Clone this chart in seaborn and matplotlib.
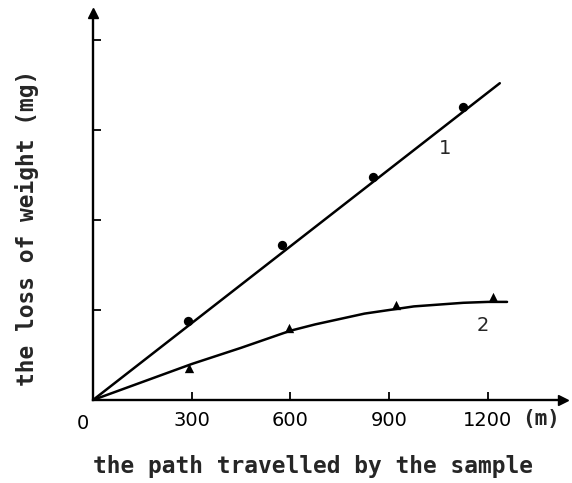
import matplotlib
matplotlib.use("Agg")
import matplotlib.pyplot as plt
import matplotlib.transforms as mtransforms
import seaborn as sns
import pandas as pd

# ---- data ----
# curve 1: measured points (filled circles) and straight fitted line
c1_x = [289, 574, 851, 1124]
c1_y = [0.88, 1.72, 2.48, 3.26]
c1_line_x = [0, 1236]
c1_line_y = [0.0, 3.52]

# curve 2: measured points (triangles) and smooth fitted curve
c2_x = [292, 596, 921, 1216]
c2_y = [0.36, 0.80, 1.06, 1.15]
c2_line_x = [0, 150, 300, 450, 600, 675, 750, 825, 900, 975, 1050, 1125, 1200, 1258]
c2_line_y = [0.0, 0.20, 0.40, 0.58, 0.77, 0.84, 0.90, 0.96, 1.00, 1.04, 1.06, 1.08, 1.09, 1.09]

x_ticks = [0, 300, 600, 900, 1200]
x_tick_labels = ["0", "300", "600", "900", "1200"]
y_ticks = [1, 2, 3, 4]

sns.set_style("ticks")
plt.rcParams["font.family"] = ["DejaVu Sans"]

fig = plt.figure(figsize=(5.72, 4.83), dpi=100)
ax = fig.add_axes([93 / 572, 83 / 483, 470 / 572, 387 / 483])

df1 = pd.DataFrame({"x": c1_line_x, "y": c1_line_y})
df2 = pd.DataFrame({"x": c2_line_x, "y": c2_line_y})
p1 = pd.DataFrame({"x": c1_x, "y": c1_y})
p2 = pd.DataFrame({"x": c2_x, "y": c2_y})

sns.lineplot(data=df1, x="x", y="y", ax=ax, color="black", linewidth=1.8, sort=False)
sns.lineplot(data=df2, x="x", y="y", ax=ax, color="black", linewidth=1.8, sort=False)
sns.scatterplot(data=p1, x="x", y="y", ax=ax, color="black", marker="o", s=45,
                edgecolor="black", linewidth=0, zorder=5)
sns.scatterplot(data=p2, x="x", y="y", ax=ax, color="black", marker="^", s=45,
                edgecolor="black", linewidth=0, zorder=5)

ax.set_xlim(0, 1428)
ax.set_ylim(0, 4.3)
ax.set_xlabel("")
ax.set_ylabel("")

for s in ["top", "right"]:
    ax.spines[s].set_visible(False)
for s in ["left", "bottom"]:
    ax.spines[s].set_linewidth(1.7)
    ax.spines[s].set_color("black")

ax.set_xticks(x_ticks)
ax.set_xticklabels(x_tick_labels, fontsize=14)
ax.set_yticks(y_ticks)
ax.set_yticklabels([])
ax.tick_params(axis="x", direction="in", length=6, width=1.3, pad=8, colors="black")
ax.tick_params(axis="y", direction="in", length=6, width=1.3, colors="black")

# shift the "0" label to the left of the origin
lab0 = ax.get_xticklabels()[0]
lab0.set_transform(lab0.get_transform() + mtransforms.ScaledTranslation(-10 / 100, -3 / 100, fig.dpi_scale_trans))

# axis arrows
ax.plot(1, 0, ">", color="black", markersize=7, transform=ax.transAxes, clip_on=False)
ax.plot(0, 1, "^", color="black", markersize=7, transform=ax.transAxes, clip_on=False)

# curve labels
ax.text(1069, 2.8, "1", fontsize=14, ha="center", va="center")
ax.text(1185, 0.83, "2", fontsize=14, ha="center", va="center")

mono = ["DejaVu Sans Mono"]
fig.text(541 / 572, 1 - 419 / 483, "(m)", family=mono, fontweight="bold",
         fontsize=15, ha="center", va="center")
fig.text(313 / 572, 1 - 467 / 483, "the path travelled by the sample", family=mono,
         fontweight="bold", fontsize=16.5, ha="center", va="center")
fig.text(27 / 572, 1 - 228 / 483, "the loss of weight (mg)", family=mono,
         fontweight="bold", fontsize=16.5, ha="center", va="center", rotation=90)

fig.savefig("out.png", dpi=100, facecolor="white")
